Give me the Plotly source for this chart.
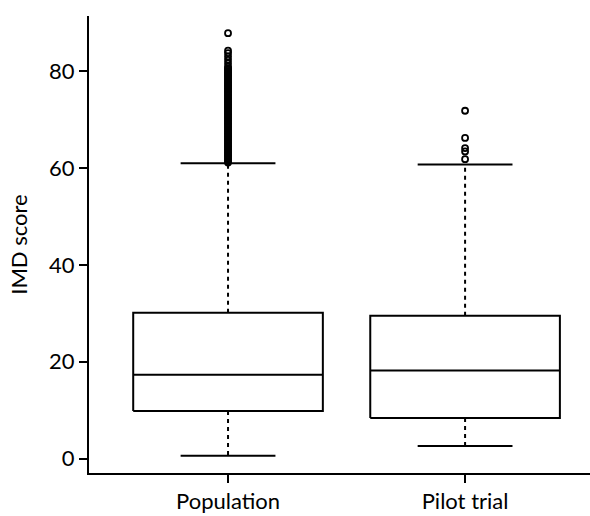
import plotly.graph_objects as go

categories = ["Population", "Pilot trial"]
q1 = [9.85, 8.4]
median = [17.3, 18.2]
q3 = [30.1, 29.5]
lower_whisker = [0.6, 2.6]
upper_whisker = [60.95, 60.7]

outliers_population = [
    61.1, 61.4, 61.7, 62.0, 62.3, 62.6, 62.9, 63.2, 63.5, 63.8, 64.1, 64.4,
    64.7, 65.0, 65.3, 65.6, 65.9, 66.2, 66.5, 66.8, 67.1, 67.4, 67.7, 68.0,
    68.3, 68.6, 68.9, 69.2, 69.5, 69.8, 70.1, 70.4, 70.7, 71.0, 71.3, 71.6,
    71.9, 72.2, 72.5, 72.8, 73.1, 73.4, 73.7, 74.0, 74.3, 74.6, 74.9, 75.2,
    75.5, 75.8, 76.1, 76.4, 76.7, 77.0, 77.3, 77.6, 77.9, 78.2, 78.5, 78.8,
    79.1, 79.4, 79.7, 80.0, 80.3, 80.6, 80.9, 81.6, 82.3, 83.0, 83.7, 84.2, 87.8,
]
outliers_pilot = [61.8, 63.4, 64.1, 66.2, 71.8]
outliers = [outliers_population, outliers_pilot]

positions = [1, 2]
half_box = 0.4
half_cap = 0.2

fig = go.Figure()
for i, pos in enumerate(positions):
    # whiskers (dashed)
    fig.add_trace(go.Scatter(
        x=[pos, pos, None, pos, pos],
        y=[q1[i], lower_whisker[i], None, q3[i], upper_whisker[i]],
        mode="lines", line=dict(color="black", width=2, dash="4px,4px"),
        hoverinfo="skip", showlegend=False))
    # caps
    fig.add_trace(go.Scatter(
        x=[pos - half_cap, pos + half_cap, None, pos - half_cap, pos + half_cap],
        y=[lower_whisker[i], lower_whisker[i], None, upper_whisker[i], upper_whisker[i]],
        mode="lines", line=dict(color="black", width=2),
        hoverinfo="skip", showlegend=False))
    # box
    fig.add_trace(go.Scatter(
        x=[pos - half_box, pos + half_box, pos + half_box, pos - half_box, pos - half_box],
        y=[q1[i], q1[i], q3[i], q3[i], q1[i]],
        mode="lines", line=dict(color="black", width=2),
        fill="toself", fillcolor="white",
        hoverinfo="skip", showlegend=False))
    # median
    fig.add_trace(go.Scatter(
        x=[pos - half_box, pos + half_box],
        y=[median[i], median[i]],
        mode="lines", line=dict(color="black", width=2),
        hoverinfo="skip", showlegend=False))
    # outliers
    fig.add_trace(go.Scatter(
        x=[pos] * len(outliers[i]), y=outliers[i],
        mode="markers",
        marker=dict(symbol="circle-open", size=6, color="black", line=dict(width=1.8)),
        hoverinfo="skip", showlegend=False))

fig.update_layout(
    width=590, height=516,
    margin=dict(l=89, r=0, t=16, b=43),
    paper_bgcolor="white", plot_bgcolor="white",
    font=dict(family="Lato", size=22, color="black"),
    showlegend=False,
)
fig.update_xaxes(
    range=[0.4135, 2.527], tickvals=positions, ticktext=categories,
    showgrid=False, zeroline=False, showline=True, linecolor="black", linewidth=2,
    ticks="outside", ticklen=8, tickwidth=2, tickcolor="black",
)
fig.update_yaxes(
    range=[-2.95, 91.35], tickvals=[0, 20, 40, 60, 80],
    showgrid=False, zeroline=False, showline=True, linecolor="black", linewidth=2,
    ticks="outside", ticklen=8, tickwidth=2, tickcolor="black",
    title=dict(text="IMD score", font=dict(size=22)),
)

fig.write_html("out.html")
